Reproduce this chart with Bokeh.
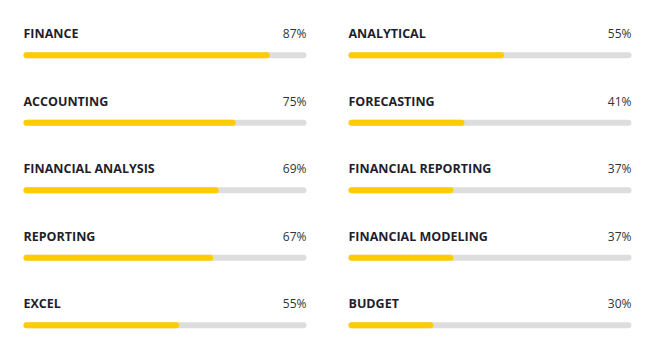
from bokeh.plotting import figure
from bokeh.layouts import row
from bokeh.models import Range1d, ColumnDataSource
from bokeh.core.properties import value
from bokeh.embed import file_html
from bokeh.resources import INLINE

left_skills = ["FINANCE", "ACCOUNTING", "FINANCIAL ANALYSIS", "REPORTING", "EXCEL"]
left_values = [87, 75, 69, 67, 55]
right_skills = ["ANALYTICAL", "FORECASTING", "FINANCIAL REPORTING", "FINANCIAL MODELING", "BUDGET"]
right_values = [55, 41, 37, 37, 30]

H = 352
TRACK_PX = 283
PX = TRACK_PX / 100.0  # pixels per percent
ROW_GAP = 67.5
LABEL_Y0 = 33
BAR_Y0 = 54.8
BAR_W = 6
CAP = (BAR_W / 2) / PX

YELLOW = "#FFCC00"
TRACK = "#DDDDDD"
LABEL_C = "#1E1E2D"
PCT_C = "#333333"


def make(skills, vals, width, pad_l):
    p = figure(width=width, height=H, output_backend="svg", toolbar_location=None,
               x_range=Range1d(-pad_l / PX, (width - pad_l) / PX),
               y_range=Range1d(H, 0), min_border=0,
               outline_line_color=None, background_fill_color="white",
               border_fill_color="white")
    p.axis.visible = False
    p.grid.visible = False
    n = len(skills)
    ly = [LABEL_Y0 + ROW_GAP * i for i in range(n)]
    by = [BAR_Y0 + ROW_GAP * i for i in range(n)]
    src = ColumnDataSource(dict(
        name=skills, val=vals, pct=[f"{v}%" for v in vals],
        ly=ly, by=by,
        x0=[CAP] * n, x1t=[100 - CAP] * n, x1=[v - CAP for v in vals],
        zero=[0] * n, hundred=[100] * n))
    p.segment(x0="x0", y0="by", x1="x1t", y1="by", source=src,
              line_color=TRACK, line_width=BAR_W, line_cap="round")
    p.segment(x0="x0", y0="by", x1="x1", y1="by", source=src,
              line_color=YELLOW, line_width=BAR_W, line_cap="round")
    p.text(x="zero", y="ly", text="name", source=src,
           text_font=value("Open Sans"), text_font_style="bold",
           text_font_size="12.5px", text_color=LABEL_C,
           text_baseline="alphabetic", text_align="left")
    p.text(x="hundred", y="ly", text="pct", source=src,
           text_font=value("Open Sans"), text_font_size="12px",
           text_color=PCT_C, text_baseline="alphabetic", text_align="right")
    return p


p1 = make(left_skills, left_values, 333, 23)
p2 = make(right_skills, right_values, 325, 15)
layout = row(p1, p2, spacing=0)
open("out.html", "w").write(file_html(layout, INLINE))
